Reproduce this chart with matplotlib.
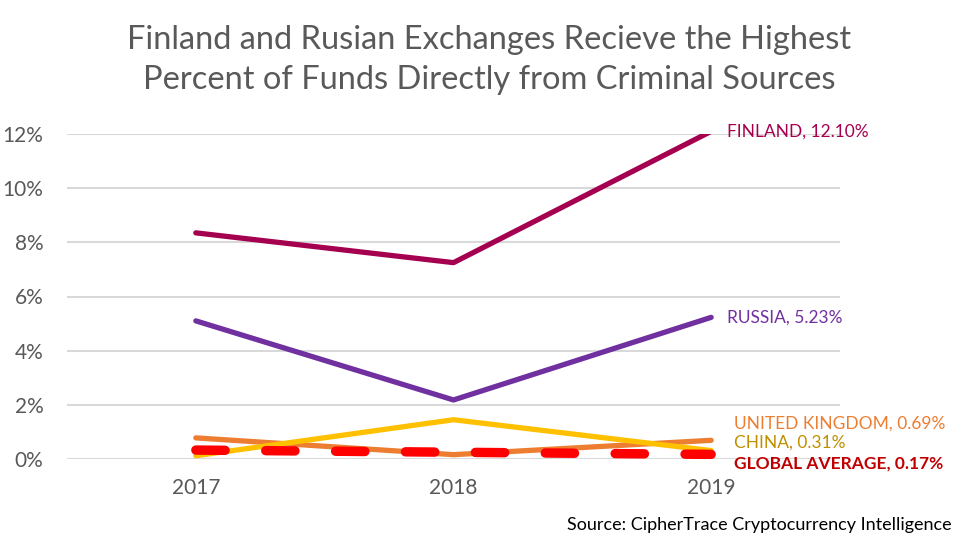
import matplotlib
matplotlib.use("Agg")
import matplotlib.pyplot as plt
import numpy as np

years = ["2017", "2018", "2019"]
finland = [8.35, 7.25, 12.10]
russia = [5.10, 2.18, 5.23]
uk = [0.78, 0.16, 0.69]
china = [0.12, 1.45, 0.31]
global_avg = [0.33, 0.25, 0.17]

plt.rcParams['font.family'] = ['Lato', 'DejaVu Sans']

fig = plt.figure(figsize=(9.78, 5.5), dpi=100)
ax = fig.add_axes([67 / 978, 1 - 459 / 550, (840 - 67) / 978, (459 - 134) / 550])

x = np.arange(len(years))
ax.plot(x, finland, color='#A5004F', lw=3.8, solid_capstyle='round', zorder=3)
ax.plot(x, russia, color='#7030A0', lw=3.8, solid_capstyle='round', zorder=3)
ax.plot(x, uk, color='#ED7D31', lw=3.8, solid_capstyle='round', zorder=3)
ax.plot(x, china, color='#FFC000', lw=3.8, solid_capstyle='round', zorder=4)
ax.plot(x, global_avg, color='#FF0000', lw=6.8, dashes=(3.1, 4.3),
        dash_capstyle='round', zorder=5)

ax.set_xlim(-0.5, 2.5)
ax.set_ylim(0, 12)
ax.set_yticks(np.arange(0, 13, 2))
ax.set_yticklabels([f"{v}%" for v in range(0, 13, 2)])
ax.set_xticks(x)
ax.set_xticklabels(years)
ax.tick_params(length=0, labelsize=15, labelcolor='#595959')
ax.tick_params(axis='y', pad=17)
ax.tick_params(axis='x', pad=14)
ax.grid(axis='y', color='#D9D9D9', lw=1.5)
ax.set_axisbelow(True)
for s in ax.spines.values():
    s.set_visible(False)

# end labels
lx = 2.06
ax.text(lx, finland[2], "FINLAND, 12.10%", color='#A5004F', fontsize=12.5, va='center')
ax.text(lx, russia[2], "RUSSIA, 5.23%", color='#7030A0', fontsize=12.5, va='center')
ax.text(2.09, 1.3, "UNITED KINGDOM, 0.69%", color='#ED7D31', fontsize=12.5, va='center')
ax.text(2.09, 0.6, "CHINA, 0.31%", color='#BF9000', fontsize=12.5, va='center')
ax.text(2.09, -0.18, "GLOBAL AVERAGE, 0.17%", color='#C00000', fontsize=12.5,
        va='center', fontweight='bold')

fig.text(0.5, 1 - 40 / 550, "Finland and Rusian Exchanges Recieve the Highest",
         ha='center', va='center', fontsize=23.5, color='#595959')
fig.text(0.5, 1 - 80 / 550, "Percent of Funds Directly from Criminal Sources",
         ha='center', va='center', fontsize=23.5, color='#595959')
fig.text(952 / 978, 1 - 525 / 550, "Source: CipherTrace Cryptocurrency Intelligence",
         ha='right', va='center', fontsize=13, color='black')

fig.savefig('out.png', dpi=100)
